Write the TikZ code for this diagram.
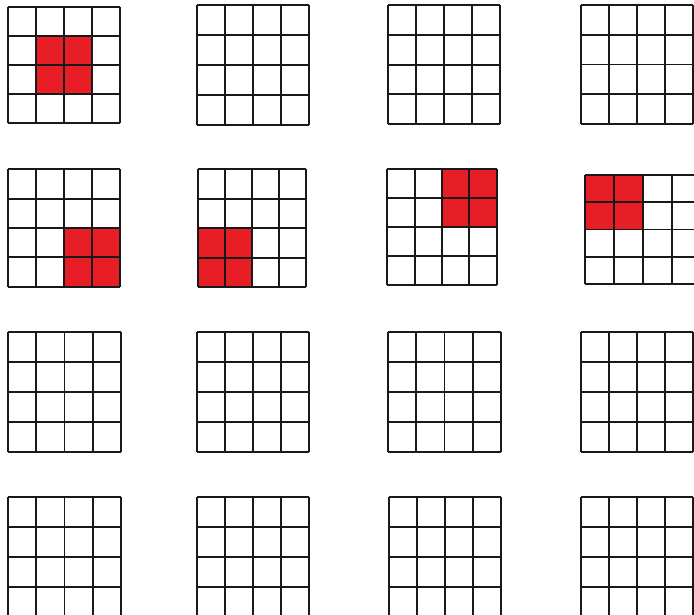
\documentclass[tikz,border=0pt]{standalone}
\usepackage{tikz}
\usetikzlibrary{calc}

\definecolor{cellred}{RGB}{232,30,38}

\tikzset{gridline/.style={line width=1.4pt, black!90},
         redcell/.style={fill=cellred}}

% a 4x4 grid: left, top, cell width, cell height (pixels)
\newcommand{\squaregrid}[4]{%
  \foreach \i in {0,...,4}{
    \draw[gridline] (#1+\i*#3, #2) -- (#1+\i*#3, #2+4*#4);
    \draw[gridline] (#1, #2+\i*#4) -- (#1+4*#3, #2+\i*#4);
  }}
% a 2x2 red block inside a grid: left, top, width, height, column, row
\newcommand{\redblock}[6]{%
  \fill[redcell] (#1+#5*#3, #2+#6*#4) rectangle ++(2*#3, 2*#4);}

\begin{document}
\begin{tikzpicture}[x=0.025cm, y=-0.025cm]
\useasboundingbox (0,0) rectangle (694,615);
\clip (0,0) rectangle (694,615);

% row 1
\redblock{8}{6.7}{28}{29}{1}{1}
\squaregrid{8}{6.7}{28}{29}
\squaregrid{197}{5}{28.1}{30}
\squaregrid{388}{5}{28}{29.8}
\squaregrid{581}{5}{28.1}{29.75}

% row 2
\redblock{8.3}{169.3}{27.9}{29.35}{2}{2}
\squaregrid{8.3}{169.3}{27.9}{29.35}
\redblock{198.3}{169.3}{26.85}{29.5}{0}{2}
\squaregrid{198.3}{169.3}{26.85}{29.5}
\redblock{387.3}{169}{27.35}{29}{2}{0}
\squaregrid{387.3}{169}{27.35}{29}
\redblock{585}{175}{29}{27.25}{0}{0}
\squaregrid{585}{175}{29}{27.25}

% row 3
\squaregrid{8.3}{332.3}{28.1}{29.85}
\squaregrid{197}{332.3}{28}{29.85}
\squaregrid{388.3}{332.3}{28.1}{29.85}
\squaregrid{581}{332.3}{28.1}{29.85}

% row 4
\squaregrid{8.3}{497.3}{28.1}{30}
\squaregrid{197}{497.3}{28}{30}
\squaregrid{388.8}{497.3}{28.1}{30}
\squaregrid{581}{497.3}{28.1}{30}
\end{tikzpicture}
\end{document}
